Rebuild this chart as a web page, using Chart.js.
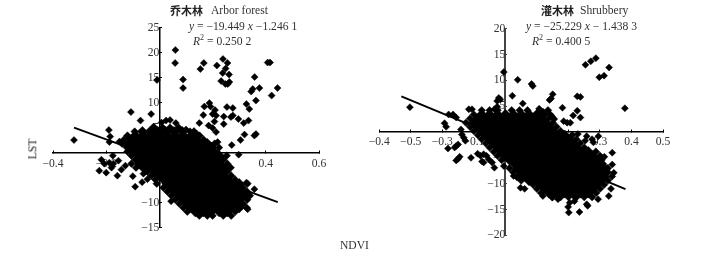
<!DOCTYPE html>
<html><head><meta charset="utf-8">
<script src="https://cdn.jsdelivr.net/npm/chart.js@4"></script>
<style>
html,body{margin:0;padding:0;background:#fff;width:727px;height:263px;overflow:hidden}
canvas{position:absolute;top:0}
.t{position:absolute;white-space:nowrap;font-family:"Liberation Serif",serif;font-size:11.6px;line-height:14px;color:#333;z-index:2}
.cn{font-family:"Noto Sans CJK SC",sans-serif;font-weight:700;font-size:11px;color:#222}
sup{font-size:8px;line-height:0}
</style></head><body>
<canvas id="a" width="364" height="263" style="left:0;width:364px;height:263px"></canvas>
<canvas id="b" width="363" height="263" style="left:364px;width:363px;height:263px"></canvas>
<div class="t" style="left:170px;top:3px"><span class="cn">乔木林</span></div>
<div class="t" style="left:211px;top:4px">Arbor forest</div>
<div class="t" style="left:189px;top:20px"><i>y</i> = −19.449 <i>x</i> −1.246 1</div>
<div class="t" style="left:193px;top:35px"><i>R</i><sup>2</sup> = 0.250 2</div>
<div class="t" style="left:541px;top:3px"><span class="cn">灌木林</span></div>
<div class="t" style="left:580px;top:4px">Shrubbery</div>
<div class="t" style="left:526px;top:20px"><i>y</i> = −25.229 <i>x</i> − 1.438 3</div>
<div class="t" style="left:532px;top:34.5px"><i>R</i><sup>2</sup> = 0.400 5</div>
<div class="t" style="left:340px;top:239px">NDVI</div>
<div class="t" style="left:23px;top:142px;transform:rotate(-90deg);color:#222">LST</div>
<script>
const arborXLabels = ['−0.4','−0.2','0','0.2','0.4','0.6'];
const arborYLabels = ['−15','−10','−5','0','5','10','15','20','25'];
const shrubXLabels = ['−0.4','−0.5','−0.3','−0.1','0','0.1','0.2','0.3','0.4','0.5'];
const shrubYLabels = ['−20','−15','−10','−5','0','5','10','15','20'];

const arborFit = [[-0.321,5.0],[0.445,-9.9]];
const shrubFit = [[-0.33,6.9],[0.381,-11.05]];

const arborOutliers = [[-.321,2.5],[.060,20.5],[.059,17.9],[-.009,14.5],[.089,14.6],[.089,12.9],[.154,16.7],[.167,17.9],[.216,17.4],[.239,18.7],[.256,17.9],[.249,16.8],[.238,15.9],[.262,15.6],[.232,14.3],[.248,13.7],[.257,13.7],[.263,14.1],[.407,18],[.416,18],[.358,15.1],[.444,12.9],[.422,11.4],[.376,12.9],[.351,12.7],[.345,12.2],[.363,10.4],[.327,9.7],[.338,8.7],[.335,6.4],[.317,5.9],[.297,6.7],[.276,8.9],[.254,9.1],[.276,7.4],[.269,7.1],[.242,7.2],[.242,5.7],[.188,9.9],[.169,9.2],[.192,9.2],[.209,8.5],[.165,7.5],[.2,7.7],[.213,7.4],[.207,6.2],[.185,5.4],[.2,4.9],[.15,5.9],[.213,4.1],[.363,3.7],[.357,3.4],[.32,3.6],[.305,2.5],[.272,1.5],[.219,2.1],[.298,-.4],[-.107,8.1],[-.071,6.4],[-.031,7.7],[-.19,4.5],[-.185,3.2],[-.188,2.1],[-.175,-.6],[-.218,-1.4],[-.207,-2.2],[-.188,-2],[-.173,-2.2],[-.18,-3],[-.226,-3.6],[-.2,-4],[-.154,-1.6],[-.158,-4.6],[-.143,-3.4],[-.128,-2.6],[-.1,-4.7],[-.091,-6.8],[-.065,-5.9],[.044,-9.7],[.357,-7.3],[.327,-6],[.332,-11.3],[.008,6],[.025,6.4],[.04,6.5],[.062,5.9],[-.022,5.2],[.1,4.6],[.13,4.3],[.14,3.8],[-.15,2.2],[-.14,1.7],[-.045,-5.3],[-.06,-4.2]];

// each row: LST value, then the NDVI values read along that row of the dense cloud
const arborCloud = [
[5.0,-.02,.012,.04,.072],
[4.2,-.093,-.064,-.035,-.006,.024,.055,.086,.115],
[3.4,-.12,-.091,-.06,-.03,.002,.03,.061,.09,.12,.151],
[2.6,-.133,-.105,-.076,-.045,-.014,.016,.045,.074,.106,.135,.166],
[1.8,-.12,-.09,-.06,-.03,0,.03,.06,.09,.12,.15,.18,.208],
[1.0,-.122,-.105,-.074,-.045,-.015,.015,.046,.075,.105,.135,.165,.195,.224],
[0.2,-.12,-.09,-.06,-.03,0,.03,.06,.09,.12,.15,.18,.21],
[-0.6,-.105,-.076,-.045,-.015,.015,.045,.075,.105,.135,.165,.195,.225,.253],
[-1.4,-.09,-.06,-.03,0,.03,.06,.09,.12,.15,.18,.21,.24],
[-2.2,-.105,-.075,-.045,-.015,.015,.045,.075,.105,.135,.165,.195,.225,.255],
[-3.0,-.088,-.06,-.03,0,.03,.06,.09,.12,.15,.18,.21,.24,.268],
[-3.8,-.045,-.015,.015,.045,.075,.105,.135,.165,.195,.225,.255],
[-4.6,-.03,0,.03,.06,.09,.12,.15,.18,.21,.24,.27],
[-5.4,-.015,.015,.045,.075,.105,.135,.165,.195,.225,.255,.285],
[-6.2,-.01,.03,.06,.09,.12,.15,.18,.21,.24,.27,.3,.331],
[-7.0,.015,.045,.075,.105,.135,.165,.195,.225,.255,.285,.315],
[-7.8,.03,.06,.09,.12,.15,.18,.21,.24,.27,.3,.33],
[-8.6,.045,.075,.105,.135,.165,.195,.225,.255,.285,.315,.34],
[-9.4,.06,.09,.12,.15,.18,.21,.24,.27,.3,.33],
[-10.2,.075,.105,.135,.165,.195,.225,.255,.285,.315],
[-11.0,.09,.12,.15,.18,.21,.24,.27,.3,.328],
[-11.8,.105,.135,.165,.195,.225,.255,.285],
[-12.6,.15,.18,.2,.24,.27]
];

const shrubOutliers = [[-.303,4.8],[-.193,1.7],[-.188,1.0],[-.182,-3.2],[-.156,-2.7],[-.161,-3],[-.150,-2.4],[-.15,-5.2],[-.156,-5.5],[-.145,-4.8],[-.18,3.4],[-.166,3.4],[-.156,2.8],[-.141,.5],[-.138,-.5],[-.132,-1.1],[-.127,-1.7],[-.109,-5],[-.088,-4.2],[-.079,-4.6],[-.074,-5.7],[-.069,-5.9],[-.069,-4.3],[-.06,-4.6],[-.053,-5.3],[-.042,-5.9],[-.035,-6.9],[-.005,-6.6],[-.116,4.4],[-.106,4.4],[-.021,6.6],[-.026,6],[-.016,6.3],[-.026,4.9],[-.035,4.4],[-.005,11.6],[.039,10.1],[.083,9.3],[.087,8.9],[.022,7],[.15,7.3],[.14,6.2],[.145,6.5],[.228,6.9],[.238,6.8],[.181,4.7],[.254,13],[.271,13.7],[.287,14.3],[.298,10.6],[.313,10.9],[.329,12.5],[.379,4.6],[.238,2.8],[.215,3.2],[.228,4.1],[.196,1.8],[.206,1.8],[.185,2.1],[.143,3.4],[.148,3],[.155,2.5],[.295,-.8],[.275,-1.4],[.258,-.8],[.279,-2],[.253,-1.7],[.23,-.4],[.339,-4],[.314,-4.8],[.339,-6.3],[.344,-7.9],[.335,-11],[.328,-12.4],[.294,-13],[.201,-15.6],[.199,-14.5],[.204,-13.7],[.235,-15.5],[.261,-14.3],[.258,-14],[.219,-13.4],[.223,-12.8],[.048,-10.8],[.061,-11],[.119,-12.4],[.148,-12.7],[.167,-13],[.026,-8.5],[.037,-8.8],[.055,5.5],[.107,4.5],[.12,3.9]];

const shrubCloud = [
[4.2,-.075,-.05,-.025,.02,.045,.07,.11,.135],
[3.4,-.1,-.075,-.05,-.025,0,.025,.05,.075,.1,.125],
[2.6,-.112,-.087,-.062,-.037,-.012,.013,.038,.063,.088,.113,.137],
[1.8,-.125,-.1,-.075,-.05,-.025,0,.025,.05,.075,.1,.125,.15],
[1.0,-.112,-.087,-.062,-.037,-.012,.013,.038,.063,.088,.113,.138,.162],
[0.2,-.1,-.075,-.05,-.025,0,.025,.05,.075,.1,.125,.15,.175],
[-0.6,-.087,-.062,-.037,-.012,.013,.038,.063,.088,.113,.138,.163,.188,.212],
[-1.4,-.075,-.05,-.025,0,.025,.05,.075,.1,.125,.15,.175,.2,.225],
[-2.2,-.062,-.037,-.012,.013,.038,.063,.088,.113,.138,.163,.188,.213,.237],
[-3.0,-.05,-.025,0,.025,.05,.075,.1,.125,.15,.175,.2,.225,.25],
[-3.8,-.037,-.012,.013,.038,.063,.088,.113,.138,.163,.188,.213,.238,.263,.287],
[-4.6,-.025,0,.025,.05,.075,.1,.125,.15,.175,.2,.225,.25,.275,.3],
[-5.4,-.012,.013,.038,.063,.088,.113,.138,.163,.188,.213,.238,.263,.288,.305],
[-6.2,.025,.05,.075,.1,.125,.15,.175,.2,.225,.25,.275,.3,.31],
[-7.0,.013,.038,.063,.088,.113,.138,.163,.188,.213,.238,.263,.288,.313,.325],
[-7.8,.025,.05,.075,.1,.125,.15,.175,.2,.225,.25,.275,.3,.325],
[-8.6,.038,.063,.088,.113,.138,.163,.188,.213,.238,.263,.288,.313,.338],
[-9.4,.05,.075,.1,.125,.15,.175,.2,.225,.25,.275,.3,.325],
[-10.2,.088,.113,.138,.163,.188,.213,.238,.263,.288,.313],
[-11.0,.1,.125,.15,.175,.2,.225,.25,.275,.3],
[-11.8,.113,.138,.163,.188,.213,.238,.263,.288],
[-12.6,.15,.175,.2,.225,.25,.275]
];

// Points at the rim of the cloud keep the outlier size; the interior ones are larger so the cloud reads solid.
function rowsToPoints(rows){
  const pts = [];
  rows.forEach((row, r) => {
    const rimRow = r === 0 || r === rows.length - 1;
    for (let i = 1; i < row.length; i++)
      pts.push({x: row[i], y: row[0], rim: rimRow || i === 1 || i === row.length - 1});
  });
  return pts;
}
function pairsToPoints(list){ return list.map(p => ({x: p[0], y: p[1]})); }

const tickFont = {family: '"Liberation Serif", serif', size: 11.6};

function makeChart(id, cfg){
  const zeroPad = s => { s.paddingLeft = s.paddingRight = s.paddingTop = s.paddingBottom = 0; };
  new Chart(document.getElementById(id), {
    type: 'scatter',
    data: { datasets: [
      {data: pairsToPoints(cfg.fit), showLine: true, borderColor: '#000', borderWidth: 2, pointRadius: 0, order: 0},
      {data: pairsToPoints(cfg.outliers), pointStyle: 'rectRot', pointRadius: 3.5, borderWidth: 0.5, borderColor: '#000', backgroundColor: '#000', order: 1},
      {data: rowsToPoints(cfg.cloud), pointStyle: 'rectRot', pointRadius: c => c.raw.rim ? 3.8 : 5.2, borderWidth: 0.5, borderColor: '#000', backgroundColor: '#000', order: 2}
    ]},
    options: {
      responsive: false, animation: false,
      layout: {padding: cfg.padding},
      plugins: {legend: {display: false}, tooltip: {enabled: false}, title: {display: false}},
      scales: {
        x: {
          type: 'linear', min: cfg.xMin, max: cfg.xMax, position: {y: 0},
          afterFit: zeroPad,
          afterBuildTicks: s => { s.ticks = cfg.xVals.map(v => ({value: v})); },
          grid: {drawOnChartArea: false, tickLength: -3, color: '#000', lineWidth: 1},
          border: {color: '#000', width: 1.5},
          ticks: {autoSkip: false, maxRotation: 0, minRotation: 0, padding: cfg.xPad, color: '#333', font: tickFont,
                  callback: (v, i) => cfg.xLabels[i]}
        },
        y: {
          type: 'linear', min: cfg.yMin, max: cfg.yMax, position: {x: 0},
          afterFit: zeroPad,
          afterBuildTicks: s => { s.ticks = cfg.yVals.map(v => ({value: v})); },
          grid: {drawOnChartArea: false, tickLength: -3, color: cfg.yAxisColor, lineWidth: 1},
          border: {color: cfg.yAxisColor, width: cfg.yAxisWidth},
          ticks: {autoSkip: false, padding: 8, color: '#333', font: tickFont,
                  callback: (v, i) => cfg.yLabels[i]}
        }
      }
    }
  });
}

const arborXVals = [-0.4,-0.2,0,0.2,0.4,0.6];
const arborYVals = [-15,-10,-5,0,5,10,15,20,25];
const shrubXVals = [-0.4,-0.3,-0.2,-0.1,0,0.1,0.2,0.3,0.4,0.5];
const shrubYVals = [-20,-15,-10,-5,0,5,10,15,20];

makeChart('a', {fit: arborFit, outliers: arborOutliers, cloud: arborCloud,
  xMin: -0.4, xMax: 0.6, yMin: -15, yMax: 25, xPad: 7,
  xVals: arborXVals, yVals: arborYVals, xLabels: arborXLabels, yLabels: arborYLabels,
  yAxisColor: '#000', yAxisWidth: 1.5,
  padding: {left: 53, right: 45, top: 27.5, bottom: 35.3}});
makeChart('b', {fit: shrubFit, outliers: shrubOutliers, cloud: shrubCloud,
  xMin: -0.4, xMax: 0.5, yMin: -20, yMax: 20, xPad: 6,
  xVals: shrubXVals, yVals: shrubYVals, xLabels: shrubXLabels, yLabels: shrubYLabels,
  yAxisColor: '#444', yAxisWidth: 2,
  padding: {left: 15.3, right: 64, top: 28.7, bottom: 27.7}});
</script>
</body></html>
